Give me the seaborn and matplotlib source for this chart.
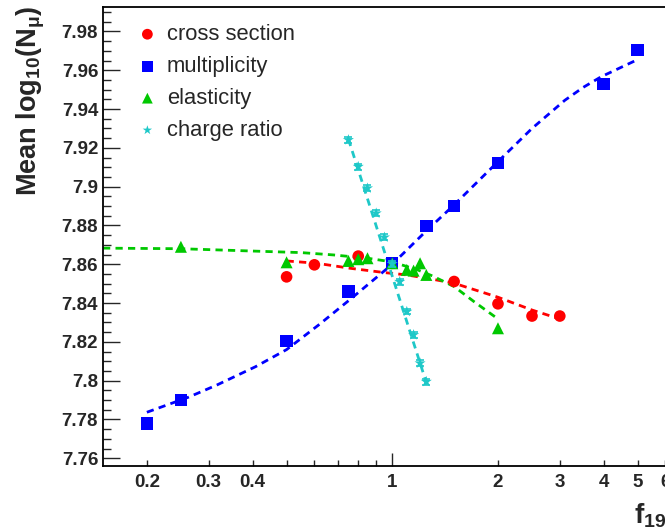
import matplotlib
matplotlib.use("Agg")
import matplotlib.pyplot as plt
import seaborn as sns
import pandas as pd
from matplotlib.ticker import FixedLocator, FixedFormatter

# ---------------- data ----------------
cs_x = [0.5, 0.6, 0.8, 1.0, 1.5, 2.0, 2.5, 3.0]
cs_y = [7.8535, 7.8597, 7.8642, 7.8605, 7.8511, 7.8396, 7.8333, 7.8333]

mult_x = [0.2, 0.25, 0.5, 0.75, 1.0, 1.25, 1.5, 2.0, 4.0, 5.0]
mult_y = [7.7780, 7.7900, 7.8205, 7.8459, 7.8605, 7.8798, 7.8900, 7.9121, 7.9529, 7.9705]

elas_x = [0.25, 0.5, 0.75, 0.8, 0.85, 1.0, 1.1, 1.15, 1.2, 1.25, 2.0]
elas_y = [7.8690, 7.8610, 7.8617, 7.8626, 7.8631, 7.8605, 7.8571, 7.8567, 7.8605, 7.8545, 7.8270]

chg_x = [0.75, 0.8, 0.85, 0.9, 0.95, 1.0, 1.05, 1.1, 1.15, 1.2, 1.25]
chg_y = [7.9241, 7.9103, 7.8992, 7.8863, 7.8739, 7.8602, 7.8510, 7.8356, 7.8236, 7.8090, 7.7995]
chg_err = [0.0015] * 11

# fitted curves
cs_fit_x = [0.5, 0.61, 0.76, 0.95, 1.1, 1.3, 1.5, 2.0, 2.5, 3.0]
cs_fit_y = [7.8617, 7.8605, 7.8579, 7.8557, 7.8545, 7.8523, 7.8502, 7.8430, 7.8364, 7.8318]

mult_fit_x = [0.2, 0.263, 0.317, 0.408, 0.5, 0.62, 0.76, 1.0, 1.25, 1.5, 2.0, 2.5, 3.1,
              3.5, 3.94, 4.97]
mult_fit_y = [7.7837, 7.7915, 7.7978, 7.8072, 7.8160, 7.8290, 7.8420, 7.8600, 7.8772,
              7.8906, 7.9129, 7.9300, 7.9445, 7.9512, 7.9567, 7.9653]

elas_fit_x = [0.15, 0.25, 0.4, 0.55, 0.68, 0.85, 1.0, 1.18, 1.3, 1.5, 1.71, 2.0]
elas_fit_y = [7.8683, 7.8680, 7.8668, 7.8660, 7.8648, 7.8631, 7.8612, 7.8571, 7.8540,
              7.8485, 7.8407, 7.8318]

chg_fit_x = [0.75, 1.25]
chg_fit_y = [7.9245, 7.7990]

labels = ["cross section", "multiplicity", "elasticity", "charge ratio"]
colors = ["#ff0000", "#0000ff", "#00c800", "#1ec8c8"]

x_tick_vals = [0.2, 0.3, 0.4, 1, 2, 3, 4, 5, 6]
x_tick_labels = ["0.2", "0.3", "0.4", "1", "2", "3", "4", "5", "6"]
x_minor_vals = [0.5, 0.6, 0.7, 0.8, 0.9, 7]
y_tick_vals = [7.76, 7.78, 7.80, 7.82, 7.84, 7.86, 7.88, 7.90, 7.92, 7.94, 7.96, 7.98]
y_tick_labels = ["7.76", "7.78", "7.8", "7.82", "7.84", "7.86", "7.88", "7.9",
                 "7.92", "7.94", "7.96", "7.98"]

# ---------------- style ----------------
sns.set_theme(style="ticks")
plt.rcParams["font.family"] = ["Liberation Sans", "DejaVu Sans"]
plt.rcParams["mathtext.fontset"] = "custom"
plt.rcParams["mathtext.rm"] = "Liberation Sans:bold"
plt.rcParams["mathtext.it"] = "Liberation Sans:bold"
plt.rcParams["mathtext.bf"] = "Liberation Sans:bold"
plt.rcParams["mathtext.default"] = "bf"

W, H = 665, 532
fig = plt.figure(figsize=(W / 100, H / 100), dpi=100)
x0, x1, y0, y1 = 103, 689, 7, 466
ax = fig.add_axes([x0 / W, 1 - y1 / H, (x1 - x0) / W, (y1 - y0) / H])
ax.set_xscale("log")
ax.set_xlim(0.15, 7.0)
ax.set_ylim(7.756, 7.9926)

dash = (0, (2.6, 1.9))
fits = [(cs_fit_x, cs_fit_y), (mult_fit_x, mult_fit_y), (elas_fit_x, elas_fit_y), (chg_fit_x, chg_fit_y)]
for (fx, fy), c in zip(fits, colors):
    ax.plot(fx, fy, color=c, lw=2.0, linestyle=dash, zorder=2)

pts = [(cs_x, cs_y, "o", 70), (mult_x, mult_y, "s", 80), (elas_x, elas_y, "^", 75), (chg_x, chg_y, "*", 70)]
for (px, py, m, s), c, lab in zip(pts, colors, labels):
    df = pd.DataFrame({"x": px, "y": py})
    sns.scatterplot(data=df, x="x", y="y", marker=m, s=s, color=c, edgecolor="none",
                    linewidth=0, ax=ax, label=lab, zorder=3)
ax.errorbar(chg_x, chg_y, yerr=chg_err, fmt="none", ecolor=colors[3], elinewidth=1.2,
            capsize=3, capthick=1.2, zorder=3)

# ---------------- axes ----------------
for sp in ax.spines.values():
    sp.set_linewidth(1.3)
    sp.set_color("black")

ax.xaxis.set_major_locator(FixedLocator(x_tick_vals))
ax.xaxis.set_major_formatter(FixedFormatter(x_tick_labels))
ax.xaxis.set_minor_locator(FixedLocator(x_minor_vals))
ax.yaxis.set_major_locator(FixedLocator(y_tick_vals))
ax.yaxis.set_major_formatter(FixedFormatter(y_tick_labels))
ax.yaxis.set_minor_locator(FixedLocator([7.755 + 0.005 * i for i in range(1, 48)]))

ax.tick_params(axis="x", which="both", direction="in", length=4.5, width=1.0, pad=6,
               labelsize=13.5, top=False)
ax.tick_params(axis="y", which="major", direction="in", length=12, width=1.0, pad=3.5,
               labelsize=13.5, right=False)
ax.tick_params(axis="y", which="minor", direction="in", length=6, width=1.0, right=False)
for lab in ax.get_xticklabels() + ax.get_yticklabels():
    lab.set_fontweight("bold")
# longer tick at the decade
for t, v in zip(ax.xaxis.get_major_ticks(), x_tick_vals):
    if v == 1:
        t.tick1line.set_markersize(9.5)

ax.set_ylabel(r"Mean log$_{10}$(N$_{\mu}$)", fontsize=19.5, fontweight="bold", loc="top")
ax.yaxis.set_label_coords(-0.095, 1.003)
ax.set_xlabel(r"f$_{19}$", fontsize=20, fontweight="bold")
ax.xaxis.label.set_ha("left")
ax.xaxis.set_label_coords((634 - x0) / (x1 - x0), -0.078)

leg = ax.legend(loc="upper left", bbox_to_anchor=(0.057, 0.963), frameon=False,
                fontsize=15.8, handlelength=1.0, handletextpad=0.38, labelspacing=0.50,
                borderpad=0, borderaxespad=0)
for h, s in zip(leg.legend_handles, [60, 60, 60, 50]):
    h.set_sizes([s])

fig.savefig("out.png", dpi=100)
